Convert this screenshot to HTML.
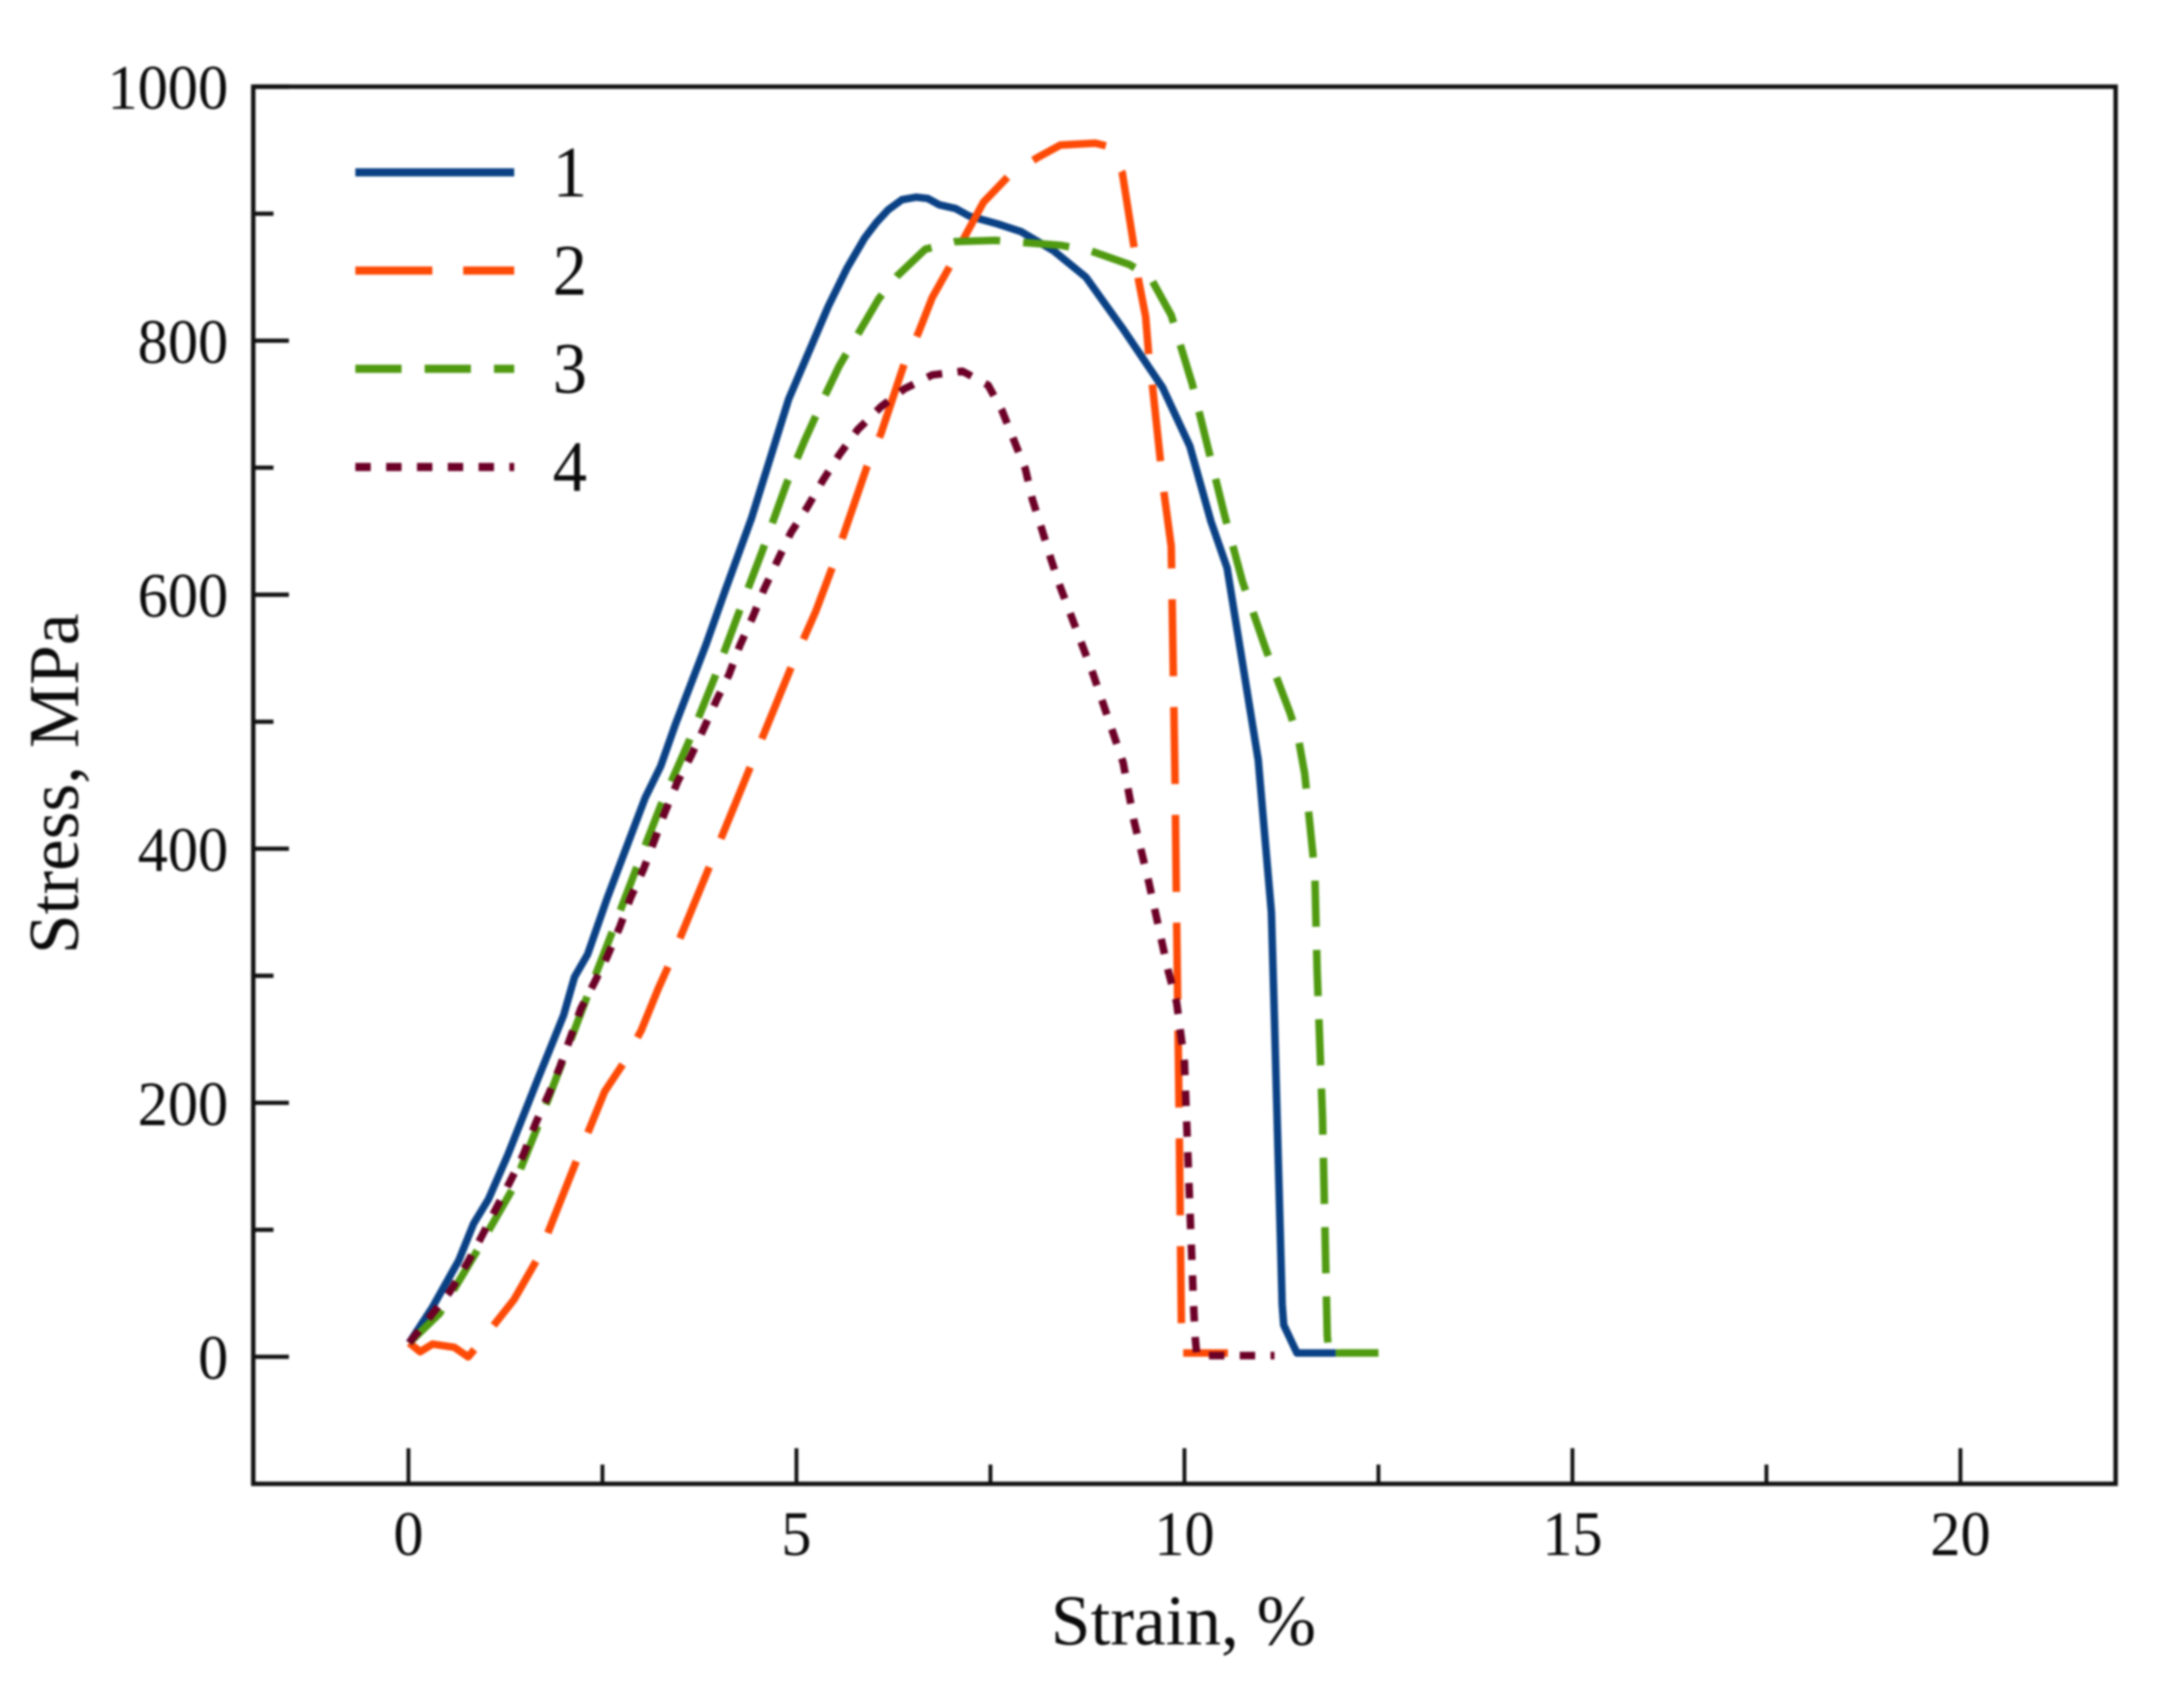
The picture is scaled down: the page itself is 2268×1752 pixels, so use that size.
<!DOCTYPE html>
<html lang="en">
<head>
<meta charset="utf-8">
<title>Stress-strain curves</title>
<style>
html,body{margin:0;padding:0;background:#fff;width:2268px;height:1752px;overflow:hidden}
svg{display:block;filter:blur(1px)}
text{font-family:"Liberation Serif",serif;fill:#0b0b0b}
</style>
</head>
<body>
<svg id="chart" xmlns="http://www.w3.org/2000/svg" width="2268" height="1752" viewBox="0 0 2268 1752"></svg>
<script>
const xMajorTicks = [0, 5, 10, 15, 20];
const xMinorTicks = [2.5, 7.5, 12.5, 17.5];
const yMajorTicks = [0, 200, 400, 600, 800, 1000];
const yMinorTicks = [100, 300, 500, 700, 900];
const xTitle = "Strain, %";
const yTitle = "Stress, MPa";
const seriesNames = ["1", "2", "3", "4"];

const strain1 = [0.01,0.31,0.65,0.84,1.03,1.28,1.67,2.0,2.14,2.31,2.56,3.05,3.25,3.44,3.83,4.08,4.42,4.90,5.41,5.65,5.88,6.03,6.18,6.36,6.54,6.69,6.84,7.05,7.23,7.59,7.89,8.31,8.73,9.20,9.72,10.07,10.34,10.55,10.95,11.12,11.16,11.26,11.28,11.45,11.95];
const stress1 = [11,39,76,105,124,159,219,269,299,317,361,440,465,498,560,603,660,754,827,857,881,893,903,911,913,912,907,904,898,892,886,871,850,810,763,717,658,621,470,350,265,41,25,3,3];

const strain2 = [0.01,0.15,0.31,0.59,0.77,0.88,1.14,1.36,1.67,2.17,2.53,2.78,3.0,3.22,3.36,3.88,4.41,4.94,5.25,5.47,5.91,6.09,6.39,6.57,6.75,6.99,7.17,7.41,7.74,8.10,8.40,8.85,9.02,9.20,9.35,9.41,9.50,9.54,9.59,9.69,9.74,9.83,9.88,9.90,9.93,9.96,9.97,10.56];
const stress2 = [11,4,10,7.5,0,8,28,45,78,155,209,232,257,290,309,386,465,544,587,623,701,727,782,806,834,860,882,909,930,944,954,955.5,953,932,874,847,819,789,763,706,679,638,451,343,196,27,3,3];

const strain3 = [0.01,0.40,0.87,1.34,1.67,1.97,2.28,2.61,2.92,3.25,3.61,3.94,4.24,4.57,4.87,5.11,5.37,5.55,6.06,6.30,6.66,7.05,7.56,8.42,8.78,9.29,9.56,9.83,10.10,10.31,10.52,10.75,11.05,11.36,11.47,11.55,11.68,11.71,11.78,11.84,11.86,12.5];
const stress3 = [11,34,82,132,182,230,280,332,382,434,484,534,583,636,687,722,757,780,833,851,872,878,879,875,871,860,850,820,766,714,662,610,557,507,486,459,381,304,188,17,3,3];

const strain4 = [0.01,0.31,0.53,0.76,0.92,1.14,1.31,1.48,1.64,1.81,1.95,2.22,2.39,2.56,2.72,2.86,3.03,3.16,3.30,3.47,3.64,3.80,3.97,4.13,4.27,4.44,4.58,4.75,4.93,5.14,5.34,5.55,5.79,6.09,6.39,6.75,7.14,7.47,7.65,7.80,7.95,8.04,8.16,8.28,8.40,8.82,9.21,9.35,9.54,9.79,9.90,10.0,10.06,10.12,10.14,10.16,11.16];
const stress4 = [11,34,51,74,92,118,138,159,184,207,228,274,294,315,338,361,384,405,428,453,473,494,517,537,560,583,604,626,649,669,690,710,730,748,762,773,776,765,745,722,699,675,652,628,606,538,468,422,374,304,279,232,134,37,14,1,1];

const NS = "http://www.w3.org/2000/svg";
const svg = document.getElementById("chart");
const plotL = 263, plotR = 2197, plotT = 90, plotB = 1541;
const xMin = -2, xMax = 22, yMin = -100, yMax = 1000;
function sx(v){ return plotL + (v - xMin) / (xMax - xMin) * (plotR - plotL); }
function sy(v){ return plotB - (v - yMin) / (yMax - yMin) * (plotB - plotT); }
function mk(tag, attrs){
  const el = document.createElementNS(NS, tag);
  for (const k in attrs) el.setAttribute(k, attrs[k]);
  svg.appendChild(el);
  return el;
}
function narrow(el, txt, size){
  el.textContent = txt;
  el.setAttribute("textLength", (txt.length * size * 0.5 * 0.95).toFixed(1));
  el.setAttribute("lengthAdjust", "spacingAndGlyphs");
}

const frame = mk("rect", {x: plotL, y: plotT, width: plotR - plotL, height: plotB - plotT, fill: "none", stroke: "#111", "stroke-width": 4.6});



xMajorTicks.forEach(function(v){
  const t = mk("line", {x1: sx(v), x2: sx(v), y1: plotB, y2: plotB - 37, stroke: "#111", "stroke-width": 4});
  
  
  const l = mk("text", {x: sx(v), y: 1615, "font-size": 66, "text-anchor": "middle"});
  narrow(l, String(v), 66);
  
  
});
xMinorTicks.forEach(function(v){
  const t = mk("line", {x1: sx(v), x2: sx(v), y1: plotB, y2: plotB - 20, stroke: "#111", "stroke-width": 4});
  
  
});
yMajorTicks.forEach(function(v){
  const t = mk("line", {x1: plotL, x2: plotL + 37, y1: sy(v), y2: sy(v), stroke: "#111", "stroke-width": 4.4});
  
  
  const l = mk("text", {x: 237, y: sy(v) + 23, "font-size": 66, "text-anchor": "end"});
  narrow(l, String(v), 66);
  
  
});
yMinorTicks.forEach(function(v){
  const t = mk("line", {x1: plotL, x2: plotL + 21, y1: sy(v), y2: sy(v), stroke: "#111", "stroke-width": 4.4});
  
  
});

const xt = mk("text", {x: 1229, y: 1708, "font-size": 74, "text-anchor": "middle"});
xt.textContent = xTitle;



const yt = mk("text", {x: 0, y: 0, "font-size": 74, "text-anchor": "middle", transform: "translate(81 814) rotate(-90)"});
yt.textContent = yTitle;



function drawSeries(xs, ys, color, dash, name){
  const d = xs.map(function(x, i){ return (i ? "L" : "M") + sx(x).toFixed(1) + " " + sy(ys[i]).toFixed(1); }).join(" ");
  const p = mk("path", {d: d, fill: "none", stroke: color, "stroke-width": 7.8, "stroke-linejoin": "round", "stroke-dasharray": dash});
  
  
}
const colors = ["#0a4185", "#fd4a06", "#4f9a10", "#6c0026"];
const dashes = ["none", "80 32", "48 24", "16 16"];
drawSeries(strain1, stress1, colors[0], dashes[0], "series-1-line");
drawSeries(strain2, stress2, colors[1], dashes[1], "series-2-line");
drawSeries(strain3, stress3, colors[2], dashes[2], "series-3-line");
const tail = mk("line", {x1: sx(strain1[strain1.length - 1]), x2: sx(strain3[strain3.length - 1]), y1: sy(stress3[stress3.length - 1]), y2: sy(stress3[stress3.length - 1]), stroke: colors[2], "stroke-width": 7.8});


drawSeries(strain4, stress4, colors[3], dashes[3], "series-4-line");

seriesNames.forEach(function(n, i){
  const ly = 179 + i * 102;
  const s = mk("line", {x1: 369, x2: 534, y1: ly, y2: ly, stroke: colors[i], "stroke-width": 8.5, "stroke-dasharray": dashes[i]});
  
  
  const l = mk("text", {x: 574, y: 204 + i * 102, "font-size": 75});
  narrow(l, n, 75);
  
  
});
</script>
</body>
</html>
